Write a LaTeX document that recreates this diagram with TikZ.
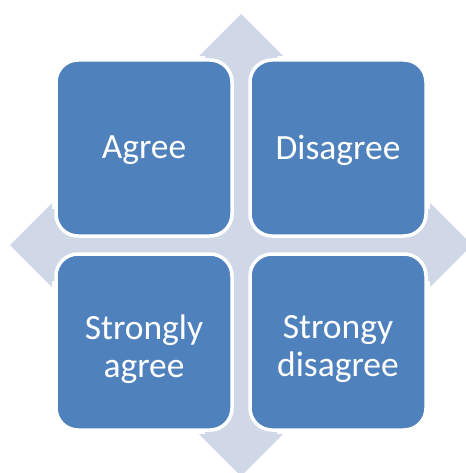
\documentclass[tikz,border=0pt]{standalone}
\usepackage{fontspec}
\setmainfont{Carlito}
\definecolor{cellblue}{HTML}{4F81BD}
\definecolor{crossgrey}{HTML}{D0D8E8}
\begin{document}
\begin{tikzpicture}[x=1pt, y=-1pt,
		cell/.style={draw=white, line width=3.5pt, fill=cellblue, rounded corners=22pt,
			minimum width=176pt, minimum height=176pt, inner sep=0pt},
		celltext/.style={text=white, align=center, inner sep=0pt,
			font=\fontsize{35.5}{38}\selectfont},
		crossarm/.style={fill=crossgrey}]
	\useasboundingbox (0,0) rectangle (465,473);
	\coordinate (mid) at (241,245);
	% four-way arrow behind the grid
	\begin{scope}[shift={(mid)}]
		\fill[crossarm] (-37,-37) rectangle (37,37);
		\foreach \a in {0,90,180,270}
			\fill[crossarm, rotate=\a] (-36,-36) -- (-36,-189) -- (-42,-189) -- (0,-231) -- (42,-189) -- (36,-189) -- (36,-36) -- cycle;
	\end{scope}
	\node[cell] (agree) at (144,148) {};
	\node[cell] (disagree) at (338,148) {};
	\node[cell] (stagree) at (144,342) {};
	\node[cell] (stdisagree) at (338,342) {};
	\node[celltext, yshift=-2pt] at (agree.center) {Agree};
	\node[celltext, yshift=-2pt] at (disagree.center) {Disagree};
	\node[celltext, yshift=-7pt] at (stagree.center) {Strongly\\agree};
	\node[celltext, yshift=-7pt] at (stdisagree.center) {Strongy\\disagree};
\end{tikzpicture}
\end{document}
